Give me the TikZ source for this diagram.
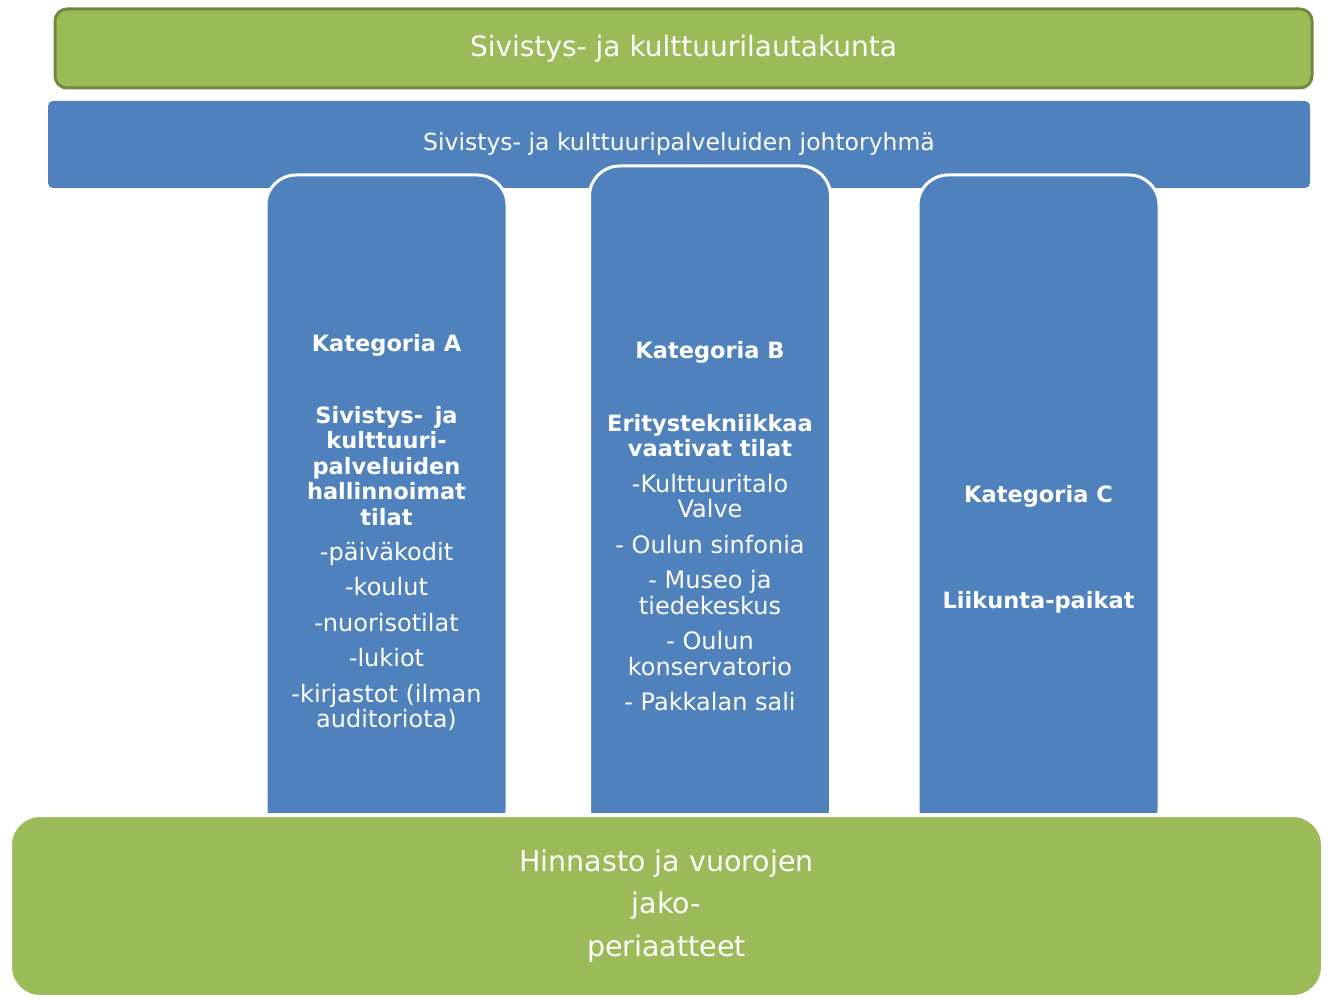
\documentclass[tikz,border=0pt]{standalone}
\usepackage{fontspec}
\setmainfont{DejaVu Sans}
\usepackage{tikz}
\usetikzlibrary{positioning}
\definecolor{pgreen}{HTML}{9BBB59}
\definecolor{pgreendark}{HTML}{71893F}
\definecolor{pblue}{HTML}{4F81BD}
\newcommand{\headfont}{\fontsize{22.5}{25.5}\selectfont\bfseries}
\newcommand{\itemfont}{\fontsize{24}{25.5}\selectfont}

\begin{document}
\begin{tikzpicture}[x=1pt, y=-1pt, inner sep=0pt, text=white,
                    top bar/.style={draw=pgreendark, line width=3pt, fill=pgreen,
                      rounded corners=12pt, font=\fontsize{28}{32}\selectfont},
                    blue bar/.style={fill=pblue, rounded corners=5pt,
                      font=\fontsize{23.5}{28}\selectfont},
                    cat col/.style={draw=white, line width=3pt, fill=pblue,
                      rounded corners=30pt, minimum width=241pt},
                    base bar/.style={draw=white, line width=4pt, fill=pgreen,
                      rounded corners=30pt, align=center,
                      font=\fontsize{28.5}{42.5}\selectfont},
                    head text/.style={align=center, font=\headfont},
                    item text/.style={align=center, font=\itemfont}]

  \useasboundingbox (0,0) rectangle (1330,1000);

  \node[top bar, minimum width=1257pt, minimum height=79pt] (board) at (683.5,48.5)
    {Sivistys- ja kulttuurilautakunta};
  \node[blue bar, minimum width=1262pt, minimum height=87pt] (group) at (679,144.5)
    {Sivistys- ja kulttuuripalveluiden johtoryhmä};

  \node[cat col, minimum height=665pt] (colA) at (386.5,507.5) {};
  \node[cat col, minimum height=674pt] (colB) at (710,503) {};
  \node[cat col, minimum height=665pt] (colC) at (1038.5,507.5) {};

  \node[base bar, minimum width=1313pt, minimum height=182pt] (prices) at (666.5,906)
    {Hinnasto ja vuorojen\\jako-\\periaatteet};

  \node[head text] (katA) at (386.5,345) {Kategoria A};
  \node[head text] (titleA) at (386.5,466)
    {Sivistys-\, ja\\kulttuuri-\\palveluiden\\hallinnoimat\\tilat};
  \node[item text] (listA) at (386.5,636.5)
    {-päiväkodit\\[10pt]-koulut\\[10pt]-nuorisotilat\\[10pt]-lukiot\\[10pt]-kirjastot (ilman\\auditoriota)};

  \node[head text] (katB) at (710,352) {Kategoria B};
  \node[head text] (titleB) at (710,435.5) {Eritystekniikkaa\\vaativat tilat};
  \node[item text] (listB) at (710,592.5)
    {-Kulttuuritalo\\Valve\\[10pt]- Oulun sinfonia\\[10pt]- Museo ja\\tiedekeskus\\[10pt]- Oulun\\konservatorio\\[10pt]- Pakkalan sali};

  \node[head text] (katC) at (1038.5,496) {Kategoria C};
  \node[head text] (titleC) at (1038.5,602) {Liikunta-paikat};
\end{tikzpicture}
\end{document}
